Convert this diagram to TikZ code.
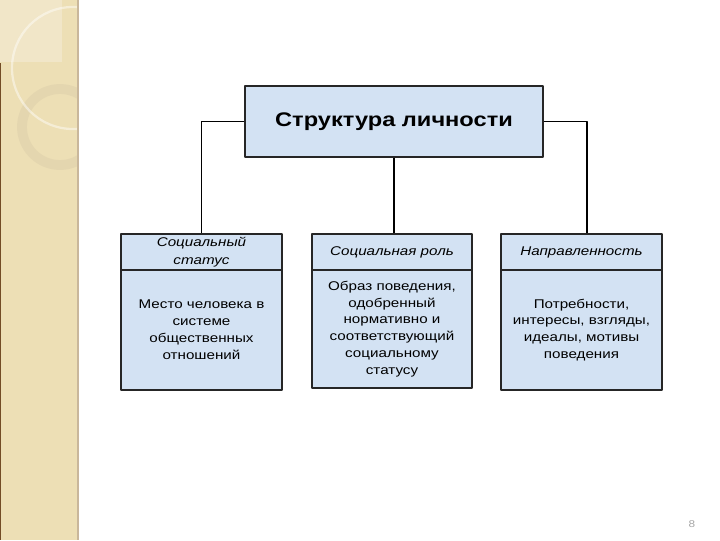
\documentclass[tikz,border=0pt]{standalone}
\usepackage{fontspec}
\setmainfont{Liberation Sans}[FakeStretch=1.2]
\usepackage{tikz}
\usetikzlibrary{calc}

\definecolor{stripbg}{HTML}{EDDFB5}
\definecolor{striplight}{HTML}{F1E6C8}
\definecolor{stripedge}{HTML}{C9B79B}
\definecolor{ringcol}{HTML}{E2D4AE}
\definecolor{boxfill}{HTML}{D3E2F3}

\begin{document}
\begin{tikzpicture}[x=0.025cm,y=-0.025cm,line join=round,
  box/.style={draw=black!85,fill=boxfill,line width=0.8pt,align=center,inner sep=2pt},
  link/.style={draw=black,line width=1pt}]
  \useasboundingbox (0,0) rectangle (720,540);
  \fill[white] (0,0) rectangle (720,540);
  % left strip
  \fill[stripbg] (0,0) rectangle (77,540);
  \fill[striplight] (0,0) rectangle (62,62);
  \begin{scope}
    \clip (0,0) rectangle (77,540);
    \draw[ringcol,line width=7pt,opacity=0.8] (60,127) circle (38);
    \draw[white,line width=1.6pt,opacity=0.45] (73,68) circle (61);
  \end{scope}
  \draw[stripedge,line width=1.2pt] (78,0) -- (78,540);
  \draw[brown!60!black,line width=0.8pt] (0.5,63) -- (0.5,540);

  \node[box,minimum width=7.45cm,minimum height=1.775cm,
        font=\fontsize{14}{16}\selectfont\bfseries] (root) at (394,121.5) {Структура личности};

  \node[box,minimum width=4.025cm,minimum height=0.9cm,
        font=\fontsize{9}{11.4}\selectfont\itshape] (lhead) at (201.5,252) {Социальный\\[1pt]статус};
  \node[box,minimum width=4.025cm,minimum height=3cm,
        font=\fontsize{9}{12}\selectfont] (lbody) at (201.5,330) {Место человека в\\системе\\общественных\\отношений};

  \node[box,minimum width=4cm,minimum height=0.9cm,
        font=\fontsize{9}{11.4}\selectfont\itshape] (mhead) at (392,252) {Социальная роль};
  \node[box,minimum width=4cm,minimum height=2.95cm,
        font=\fontsize{9}{12}\selectfont] (mbody) at (392,329) {Образ поведения,\\одобренный\\нормативно и\\соответствующий\\социальному\\статусу};

  \node[box,minimum width=4.025cm,minimum height=0.9cm,
        font=\fontsize{9}{11.4}\selectfont\itshape] (rhead) at (581.5,252) {Направленность};
  \node[box,minimum width=4.025cm,minimum height=3cm,
        font=\fontsize{9}{12}\selectfont] (rbody) at (581.5,330) {Потребности,\\интересы, взгляды,\\идеалы, мотивы\\поведения};

  \draw[link] (root.west) -| (lhead.north);
  \draw[link] (root.south) -- (root.south |- mhead.north);
  \draw[link] (root.east) -| ([xshift=0.14cm]rhead.north);

  \node[gray!70,font=\fontsize{7}{8}\selectfont] (pg) at (692,524) {8};
\end{tikzpicture}
\end{document}
